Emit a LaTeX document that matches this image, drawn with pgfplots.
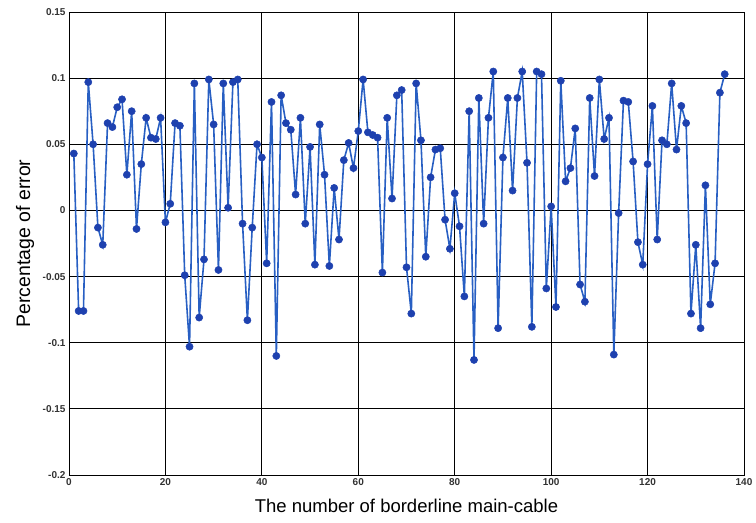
\documentclass[border=0pt]{standalone}
\usepackage{pgfplots}
\pgfplotsset{compat=1.18}
\usepackage{fontspec}
\setmainfont{Liberation Sans}
\definecolor{lineblue}{RGB}{40,95,195}
\definecolor{markblue}{RGB}{30,65,175}
\definecolor{tickgray}{RGB}{50,50,50}
\begin{document}
\begin{tikzpicture}
\begin{axis}[
    scale only axis,
    width=675pt, height=463pt,
    xmin=0, xmax=140, ymin=-0.2, ymax=0.15,
    xtick={0,20,...,140},
    ytick={-0.2,-0.15,-0.1,-0.05,0,0.05,0.1,0.15},
    yticklabels={-0.2,-0.15,-0.1,-0.05,0,0.05,0.1,0.15},
    xticklabel style={font=\fontsize{10}{12}\selectfont\bfseries, text=tickgray},
    yticklabel style={font=\fontsize{10}{12}\selectfont\bfseries, text=tickgray},
    /pgf/number format/assume math mode=true,
    major tick length=0pt,
    grid=major,
    major grid style={black, line width=0.9pt},
    axis line style={black, line width=0.9pt},
    xlabel={The number of borderline main-cable},
    ylabel={Percentage of error},
    xlabel style={font=\fontsize{18.5}{22}\selectfont, at={(axis description cs:0.5,-0.066)}, anchor=center},
    ylabel style={font=\fontsize{19.5}{23}\selectfont, at={(axis description cs:-0.065,0.5)}, anchor=center},
]
\addplot[color=lineblue, line width=1.6pt, mark=*, mark size=3.6pt,
    mark options={fill=markblue, draw=markblue, line width=0.5pt}] coordinates {
(1,0.043) (2,-0.076) (3,-0.076) (4,0.097) (5,0.050) (6,-0.013) (7,-0.026) (8,0.066)
(9,0.063) (10,0.078) (11,0.084) (12,0.027) (13,0.075) (14,-0.014) (15,0.035) (16,0.070)
(17,0.055) (18,0.054) (19,0.070) (20,-0.009) (21,0.005) (22,0.066) (23,0.064) (24,-0.049)
(25,-0.103) (26,0.096) (27,-0.081) (28,-0.037) (29,0.099) (30,0.065) (31,-0.045) (32,0.096)
(33,0.002) (34,0.097) (35,0.099) (36,-0.010) (37,-0.083) (38,-0.013) (39,0.050) (40,0.040)
(41,-0.040) (42,0.082) (43,-0.110) (44,0.087) (45,0.066) (46,0.061) (47,0.012) (48,0.070)
(49,-0.010) (50,0.048) (51,-0.041) (52,0.065) (53,0.027) (54,-0.042) (55,0.017) (56,-0.022)
(57,0.038) (58,0.051) (59,0.032) (60,0.060) (61,0.099) (62,0.059) (63,0.057) (64,0.055)
(65,-0.047) (66,0.070) (67,0.009) (68,0.087) (69,0.091) (70,-0.043) (71,-0.078) (72,0.096)
(73,0.053) (74,-0.035) (75,0.025) (76,0.046) (77,0.047) (78,-0.007) (79,-0.029) (80,0.013)
(81,-0.012) (82,-0.065) (83,0.075) (84,-0.113) (85,0.085) (86,-0.010) (87,0.070) (88,0.105)
(89,-0.089) (90,0.040) (91,0.085) (92,0.015) (93,0.085) (94,0.105) (95,0.036) (96,-0.088)
(97,0.105) (98,0.103) (99,-0.059) (100,0.003) (101,-0.073) (102,0.098) (103,0.022) (104,0.032)
(105,0.062) (106,-0.056) (107,-0.069) (108,0.085) (109,0.026) (110,0.099) (111,0.054) (112,0.070)
(113,-0.109) (114,-0.002) (115,0.083) (116,0.082) (117,0.037) (118,-0.024) (119,-0.041) (120,0.035)
(121,0.079) (122,-0.022) (123,0.053) (124,0.050) (125,0.096) (126,0.046) (127,0.079) (128,0.066)
(129,-0.078) (130,-0.026) (131,-0.089) (132,0.019) (133,-0.071) (134,-0.040) (135,0.089) (136,0.103)
};
\end{axis}
\path ([xshift=-69pt,yshift=-48pt]current axis.south west) rectangle ([xshift=12pt,yshift=12pt]current axis.north east);
\end{tikzpicture}
\end{document}
